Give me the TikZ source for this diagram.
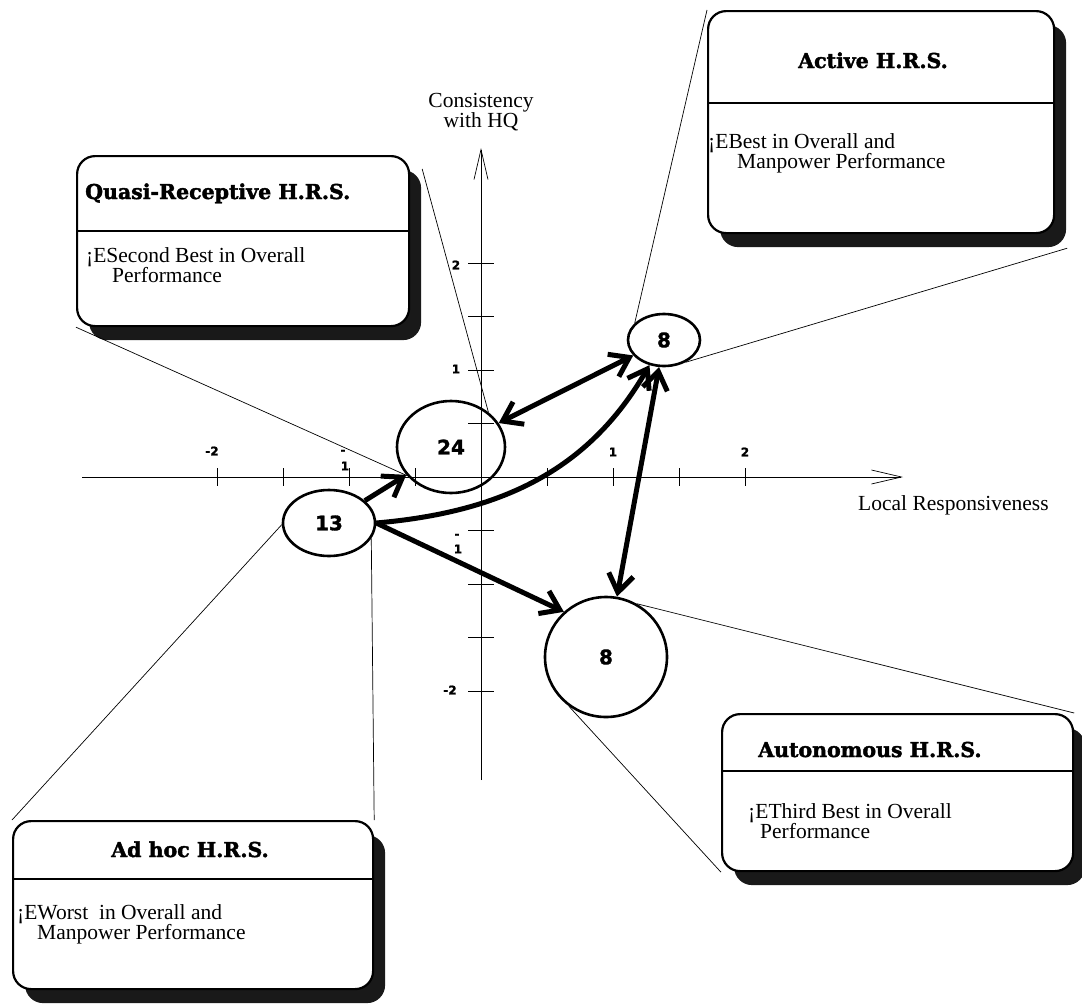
\documentclass[tikz,border=0pt]{standalone}
\usepackage{fontspec}
\setmainfont{Liberation Serif}
\newfontfamily\headfont{DejaVu Serif}[BoldFeatures={FakeBold=2}]
\newfontfamily\numfont{DejaVu Sans}[BoldFeatures={FakeBold=1.5}]
\usetikzlibrary{shapes.geometric,arrows.meta,shadows}

\begin{document}
\begin{tikzpicture}
		[x=1pt,y=1pt,
		place/.style={ellipse,draw,line width=2.6pt,inner sep=0pt,
font=\numfont\bfseries\fontsize{20}{20}\selectfont},
		flow/.style={line width=5pt,-{Straight Barb[length=18pt,width=25pt]}},
		both/.style={line width=5pt,{Straight Barb[length=18pt,width=25pt]}-{Straight Barb[length=18pt,width=25pt]}},
		axis/.style={line width=0.7pt,-{Straight Barb[length=30pt,width=14pt]}},
		callout/.style={line width=0.7pt},
		tick/.style={line width=0.6pt},
		ticklabel/.style={font=\numfont\bfseries\fontsize{12}{12}\selectfont,inner sep=0pt},
		boxstyle/.style={draw,line width=2.2pt,fill=white,rounded corners=18pt,anchor=north west,
drop shadow={shadow xshift=12pt,shadow yshift=-14pt,fill=black!90,opacity=1}},
		divider/.style={line width=1.6pt},
		headstyle/.style={font=\headfont\bfseries\fontsize{20.5}{20.5}\selectfont,inner sep=0pt},
		bodystyle/.style={font=\fontsize{21.5}{18.5}\selectfont,align=left,inner sep=0pt,anchor=north west},
		labelstyle/.style={font=\fontsize{21.5}{20}\selectfont,align=center,inner sep=0pt}]
		\useasboundingbox (0,0) rectangle (1082,-1004);
		% axes
		\draw[axis] (82,-477) -- (903,-477);
		\draw[axis] (481,-780) -- (481,-148);
		\foreach \k in {-4,...,4}
			\draw[tick] (481+66*\k,-468) -- (481+66*\k,-486);
		\foreach \k in {-4,...,4}
			\draw[tick] (468,-477+53.5*\k) -- (494,-477+53.5*\k);
		\node[ticklabel] (xm2) at (212,-451) {-2};
		\node[ticklabel] (xm1a) at (343,-452) {-};
		\node[ticklabel] (xm1b) at (345,-466) {1};
		\node[ticklabel] (xp1) at (613,-452) {1};
		\node[ticklabel] (xp2) at (745,-452) {2};
		\node[ticklabel] (yp2) at (456,-265) {2};
		\node[ticklabel] (yp1) at (456,-369) {1};
		\node[ticklabel] (ym1a) at (457,-536) {-};
		\node[ticklabel] (ym1b) at (458,-549) {1};
		\node[ticklabel] (ym2) at (450,-690) {-2};
		\node[labelstyle,anchor=north] (ylab) at (481,-93) {Consistency\\with HQ};
		\node[labelstyle,anchor=base west] (xlab) at (858,-510) {Local Responsiveness};
		% groups
		\node[place,minimum width=108pt,minimum height=92pt] (n24) at (451,-447) {24};
		\node[place,minimum width=92pt,minimum height=66pt] (n13) at (329,-523) {13};
		\node[place,minimum width=72pt,minimum height=52pt] (n8a) at (664,-340) {8};
		\node[place,minimum width=122pt,minimum height=120pt] (n8b) at (606,-657) {8};
		\draw[flow] (n13) -- (n24);
		\draw[both] (n24) -- (n8a);
		\draw[flow] (n13.east) to[out=5,in=240] (n8a);
		\draw[both] (n8a) -- (n8b);
		\draw[flow] (n13.east) -- (n8b.133);
		% callout boxes
		\node[boxstyle,minimum width=332pt,minimum height=170pt] (qbox) at (76,-155) {};
		\node[boxstyle,minimum width=346pt,minimum height=222pt] (abox) at (707,-10) {};
		\node[boxstyle,minimum width=360pt,minimum height=168pt] (hbox) at (12,-820) {};
		\node[boxstyle,minimum width=351pt,minimum height=157pt] (tbox) at (721,-713) {};
		\draw[callout] (qbox.south west) -- (n24.213);
		\draw[callout] ([shift={(12,-14)}]qbox.north east) -- (n24.43);
		\draw[callout] (abox.north west) -- (n8a.150);
		\draw[callout] ([shift={(12,-14)}]abox.south east) -- (n8a.314);
		\draw[callout] (hbox.north west) -- (n13.182);
		\draw[callout] (hbox.north east) -- (n13.-20);
		\draw[callout] (tbox.north east) -- (n8b.60);
		\draw[callout] (tbox.south west) -- (n8b.233);
		\draw[divider] (qbox.west |- 0,-231) -- (qbox.east |- 0,-231);
		\draw[divider] (abox.west |- 0,-103) -- (abox.east |- 0,-103);
		\draw[divider] (hbox.west |- 0,-879) -- (hbox.east |- 0,-879);
		\draw[divider] (tbox.west |- 0,-771) -- (tbox.east |- 0,-771);
		\node[headstyle,anchor=base west] (qhead) at (85,-199) {Quasi-Receptive H.R.S.};
		\node[headstyle,anchor=base] (ahead) at (873,-68) {Active H.R.S.};
		\node[headstyle,anchor=base] (hhead) at (190,-857) {Ad hoc H.R.S.};
		\node[headstyle,anchor=base west] (thead) at (758,-757) {Autonomous H.R.S.};
		\node[bodystyle] (qbody) at (86,-247) {¡ESecond Best in Overall\\\hspace*{26pt}Performance};
		\node[bodystyle] (abody) at (708,-133) {¡EBest in Overall and\\\hspace*{29pt}Manpower Performance};
		\node[bodystyle] (hbody) at (17,-904) {¡EWorst\ \ in Overall and\\\hspace*{20pt}Manpower Performance};
		\node[bodystyle] (tbody) at (748,-803) {¡EThird Best in Overall\\\hspace*{12pt}Performance};
	\end{tikzpicture}
\end{document}
